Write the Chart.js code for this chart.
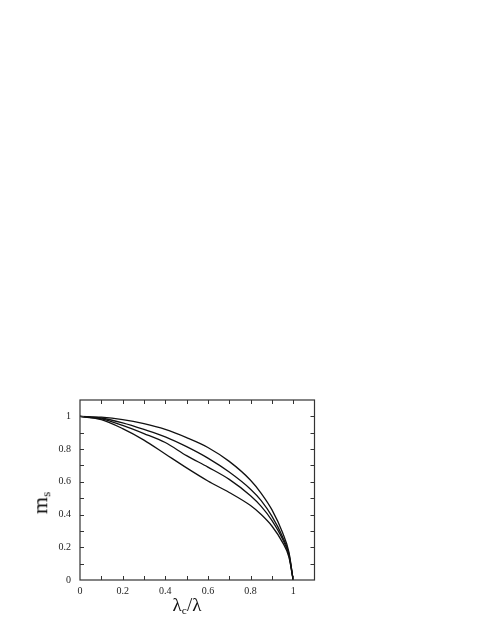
<!DOCTYPE html>
<html lang="en">
<head>
  <meta charset="UTF-8">
  <script src="https://cdn.jsdelivr.net/npm/chart.js@4.4.0/dist/chart.umd.min.js"></script>
  <title>m_s vs lambda_c/lambda</title>
  <style>
    body { margin: 0; background: #fff; }
    #wrap { position: relative; width: 491px; height: 635px; }
    #chart { position: absolute; left: 0; top: 0; }
    .axis-title {
      position: absolute;
      font-family: "Liberation Serif", "DejaVu Serif", serif;
      color: #111;
      white-space: nowrap;
      line-height: 1;
    }
    .axis-title sub { font-size: 60%; vertical-align: -0.25em; }
    #ytitle { left: 41px; top: 503px; font-size: 22px; transform: translate(-50%, -50%) rotate(-90deg); }
    #xtitle { left: 187px; top: 606px; font-size: 19px; transform: translate(-50%, -50%); }
  </style>
</head>
<body>
  <div id="wrap">
    <canvas id="chart" width="491" height="635"></canvas>
    <div class="axis-title" id="ytitle">m<sub>s</sub></div>
    <div class="axis-title" id="xtitle">&lambda;<sub>c</sub>/&lambda;</div>
  </div>

  <script>
    // lambda_c / lambda
    const ratio = [0, 0.1, 0.2, 0.3, 0.4, 0.5, 0.6, 0.7, 0.8, 0.85, 0.9, 0.95, 0.98, 1.0];

    // four magnetisation curves, top to bottom
    const curve1 = [1, 0.995, 0.98, 0.955, 0.92, 0.87, 0.81, 0.725, 0.61, 0.53, 0.43, 0.29, 0.17, 0];
    const curve2 = [1, 0.99, 0.96, 0.92, 0.875, 0.815, 0.745, 0.66, 0.555, 0.485, 0.39, 0.265, 0.16, 0];
    const curve3 = [1, 0.985, 0.945, 0.895, 0.84, 0.76, 0.69, 0.615, 0.515, 0.45, 0.365, 0.25, 0.15, 0];
    const curve4 = [1, 0.98, 0.925, 0.855, 0.77, 0.685, 0.605, 0.535, 0.455, 0.4, 0.33, 0.23, 0.14, 0];

    const xTicks = [0, 0.2, 0.4, 0.6, 0.8, 1];
    const xTickLabels = ['0', '0.2', '0.4', '0.6', '0.8', '1'];
    const yTicks = [0, 0.2, 0.4, 0.6, 0.8, 1];
    const yTickLabels = ['0', '0.2', '0.4', '0.6', '0.8', '1'];
    const minorTicks = [0.1, 0.2, 0.3, 0.4, 0.5, 0.6, 0.7, 0.8, 0.9, 1.0];

    function toPoints(ys) {
      return ratio.map((x, i) => ({ x: x, y: ys[i] }));
    }

    function curve(ys) {
      return {
        data: toPoints(ys),
        borderColor: '#111',
        borderWidth: 1.3,
        pointRadius: 0,
        fill: false,
        showLine: true,
        cubicInterpolationMode: 'monotone'
      };
    }

    // box around the plot with ticks pointing inwards on every side
    const framePlugin = {
      id: 'frame',
      afterDraw(chart) {
        const ctx = chart.ctx;
        const a = chart.chartArea;
        const xs = chart.scales.x;
        const ys = chart.scales.y;
        const len = 4;
        ctx.save();
        ctx.strokeStyle = '#333';
        ctx.lineWidth = 1.2;
        ctx.strokeRect(a.left, a.top, a.right - a.left, a.bottom - a.top);
        ctx.lineWidth = 1;
        ctx.beginPath();
        minorTicks.forEach(v => {
          const px = Math.round(xs.getPixelForValue(v)) + 0.5;
          ctx.moveTo(px, a.bottom); ctx.lineTo(px, a.bottom - len);
          ctx.moveTo(px, a.top); ctx.lineTo(px, a.top + len);
          const py = Math.round(ys.getPixelForValue(v)) + 0.5;
          ctx.moveTo(a.left, py); ctx.lineTo(a.left + len, py);
          ctx.moveTo(a.right, py); ctx.lineTo(a.right - len, py);
        });
        ctx.stroke();
        ctx.restore();
      }
    };

    const tickFont = { family: '"Liberation Serif", "DejaVu Serif", serif', size: 10 };

    new Chart(document.getElementById('chart'), {
      type: 'scatter',
      data: {
        datasets: [curve(curve1), curve(curve2), curve(curve3), curve(curve4)]
      },
      options: {
        responsive: false,
        animation: false,
        devicePixelRatio: 1,
        layout: { padding: { left: 0, top: 400, right: 176.5, bottom: 0 } },
        plugins: {
          legend: { display: false },
          tooltip: { enabled: false }
        },
        scales: {
          x: {
            type: 'linear',
            min: 0,
            max: 1.1,
            grid: { display: false, drawTicks: false },
            border: { display: false },
            afterBuildTicks: scale => { scale.ticks = xTicks.map(v => ({ value: v })); },
            afterFit: scale => { scale.height = 55; },
            ticks: {
              color: '#222',
              font: tickFont,
              padding: 5,
              maxRotation: 0,
              callback: (value, index) => xTickLabels[index]
            }
          },
          y: {
            type: 'linear',
            min: 0,
            max: 1.1,
            grid: { display: false, drawTicks: false },
            border: { display: false },
            afterBuildTicks: scale => { scale.ticks = yTicks.map(v => ({ value: v })); },
            afterFit: scale => { scale.width = 80; },
            ticks: {
              color: '#222',
              font: tickFont,
              padding: 9,
              callback: (value, index) => yTickLabels[index]
            }
          }
        }
      },
      plugins: [framePlugin]
    });
  </script>
</body>
</html>
